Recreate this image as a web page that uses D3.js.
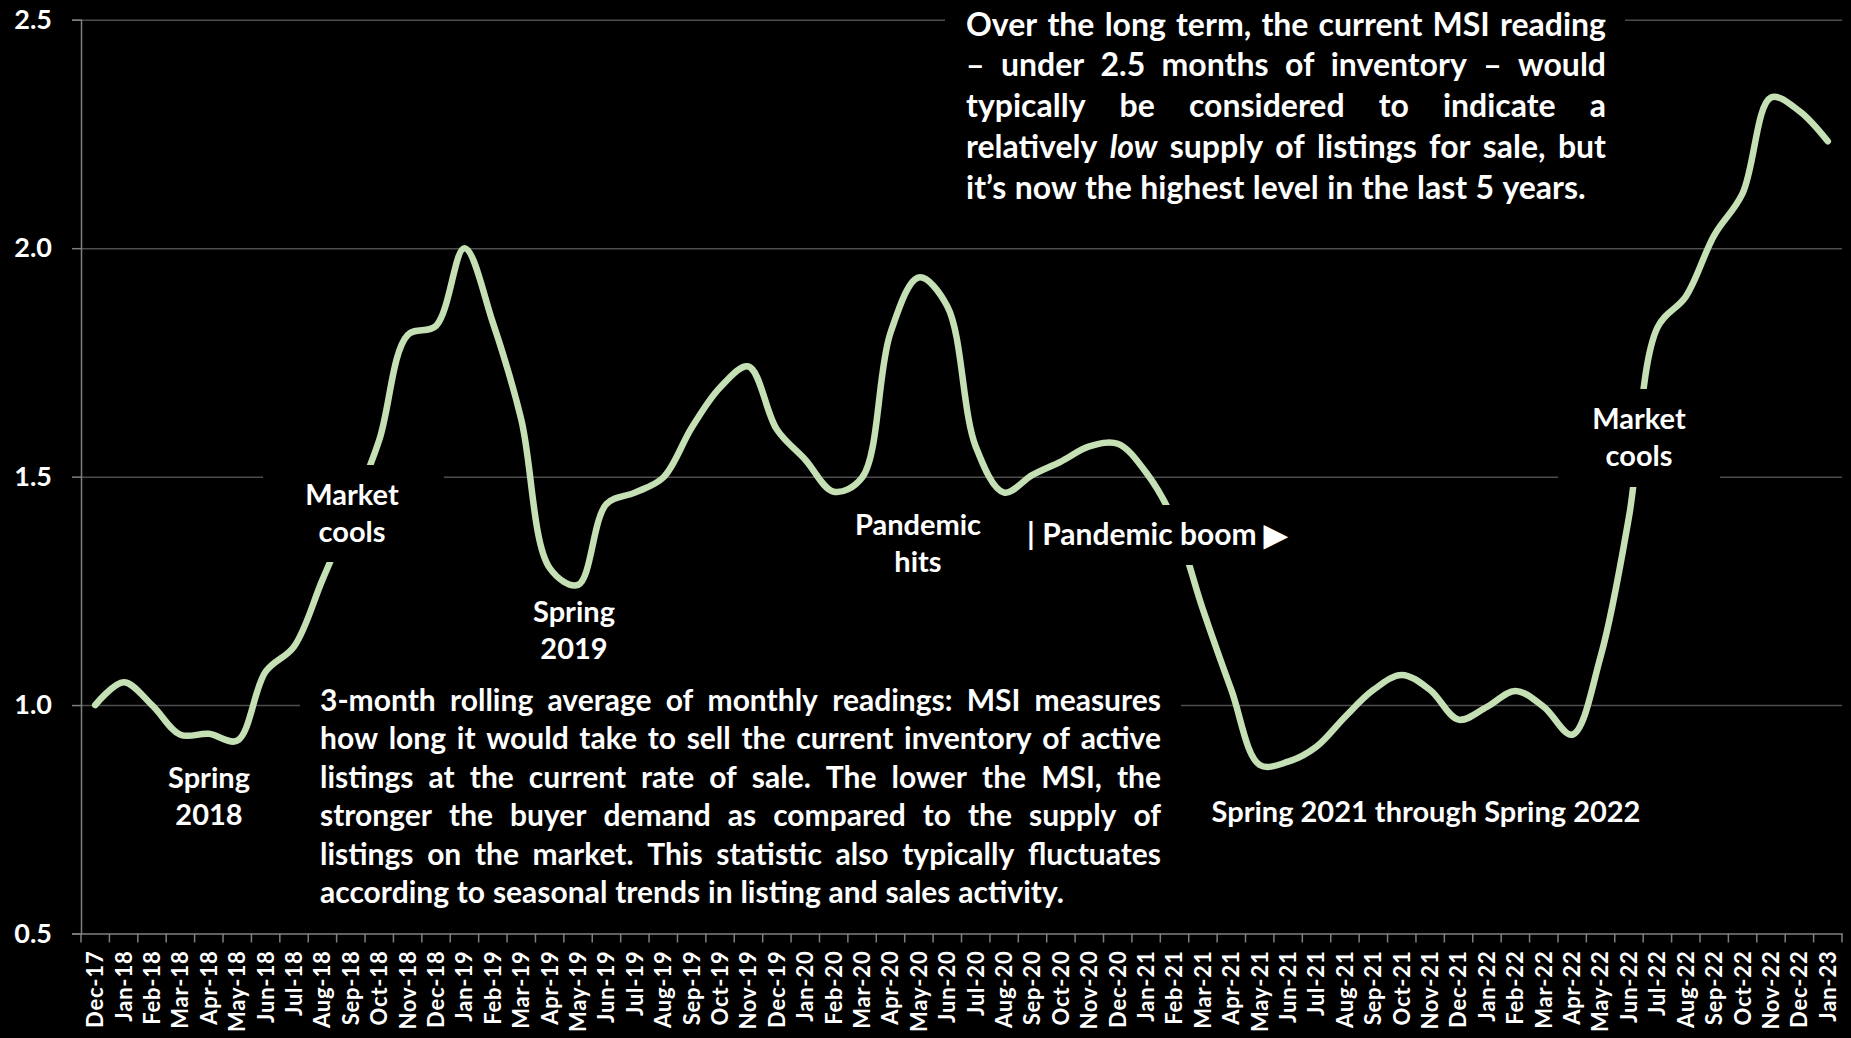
<!DOCTYPE html>
<html>
<head>
<meta charset="utf-8">
<script src="https://cdn.jsdelivr.net/npm/d3@7"></script>
<style>
  html, body { margin: 0; padding: 0; background: #000; }
  svg { display: block; }
  text { font-family: Lato, "Open Sans", sans-serif; font-weight: 700; fill: #fff; }
</style>
</head>
<body>
<div id="chart"></div>
<script>
var months = [
  "Dec-17",
  "Jan-18","Feb-18","Mar-18","Apr-18","May-18","Jun-18","Jul-18","Aug-18","Sep-18","Oct-18","Nov-18","Dec-18",
  "Jan-19","Feb-19","Mar-19","Apr-19","May-19","Jun-19","Jul-19","Aug-19","Sep-19","Oct-19","Nov-19","Dec-19",
  "Jan-20","Feb-20","Mar-20","Apr-20","May-20","Jun-20","Jul-20","Aug-20","Sep-20","Oct-20","Nov-20","Dec-20",
  "Jan-21","Feb-21","Mar-21","Apr-21","May-21","Jun-21","Jul-21","Aug-21","Sep-21","Oct-21","Nov-21","Dec-21",
  "Jan-22","Feb-22","Mar-22","Apr-22","May-22","Jun-22","Jul-22","Aug-22","Sep-22","Oct-22","Nov-22","Dec-22",
  "Jan-23"
];

// months of supply (3-month rolling average)
var msi = [
  1.00,
  1.05, 1.00, 0.935, 0.937, 0.922, 1.073, 1.128, 1.274, 1.42, 1.58, 1.81, 1.83,
  2.00, 1.837, 1.625, 1.30, 1.263, 1.44, 1.465, 1.498, 1.607, 1.695, 1.741, 1.603,
  1.537, 1.467, 1.498, 1.815, 1.936, 1.873, 1.566, 1.465, 1.504, 1.533, 1.566, 1.572,
  1.509, 1.40, 1.209, 1.033, 0.869, 0.876, 0.909, 0.974, 1.033, 1.066, 1.033, 0.968,
  0.996, 1.031, 0.996, 0.935, 1.106, 1.412, 1.826, 1.894, 2.028, 2.12, 2.33, 2.30,
  2.234
];

var yTicks = [0.5, 1.0, 1.5, 2.0, 2.5];

var topNote = [
  ["Over", "the", "long", "term,", "the", "current", "MSI", "reading"],
  ["–", "under", "2.5", "months", "of", "inventory", "–", "would"],
  ["typically", "be", "considered", "to", "indicate", "a"],
  ["relatively", "*low*", "supply", "of", "listings", "for", "sale,", "but"],
  ["it’s", "now", "the", "highest", "level", "in", "the", "last", "5", "years."]
];

var bottomNote = [
  ["3-month", "rolling", "average", "of", "monthly", "readings:", "MSI", "measures"],
  ["how", "long", "it", "would", "take", "to", "sell", "the", "current", "inventory", "of", "active"],
  ["listings", "at", "the", "current", "rate", "of", "sale.", "The", "lower", "the", "MSI,", "the"],
  ["stronger", "the", "buyer", "demand", "as", "compared", "to", "the", "supply", "of"],
  ["listings", "on", "the", "market.", "This", "statistic", "also", "typically", "fluctuates"],
  ["according", "to", "seasonal", "trends", "in", "listing", "and", "sales", "activity."]
];

var labels = [
  { lines: ["Spring", "2018"], x: 209, y: 788 },
  { lines: ["Market", "cools"], x: 352, y: 505, box: [263, 465, 444, 562] },
  { lines: ["Spring", "2019"], x: 574, y: 622 },
  { lines: ["Pandemic", "hits"], x: 918, y: 535 },
  { lines: ["| Pandemic boom ▶"], x: 1157, y: 545, size: 30, box: [1015, 505, 1300, 565] },
  { lines: ["Spring 2021 through Spring 2022"], x: 1426, y: 822 },
  { lines: ["Market", "cools"], x: 1639, y: 429, box: [1558, 389, 1720, 487] }
];

var W = 1851, H = 1038;
var plotL = 81, plotR = 1842, plotT = 19.75, plotB = 933.5;

var svg = d3.select("#chart").append("svg")
  .attr("width", W).attr("height", H)
  .style("background", "#000");

var x = d3.scaleBand().domain(months).range([plotL, plotR]).padding(0);
var y = d3.scaleLinear().domain([0.5, 2.5]).range([plotB, plotT]);

// gridlines
svg.append("g")
  .attr("transform", "translate(" + plotL + ",0)")
  .call(d3.axisLeft(y).tickValues(yTicks.slice(1)).tickSize(-(plotR - plotL)).tickFormat(""))
  .call(function(g) { g.select(".domain").remove(); })
  .selectAll("line").attr("stroke", "#4d4d4d").attr("stroke-width", 1.5);

// y axis
var yAxis = svg.append("g")
  .attr("transform", "translate(" + plotL + ",0)")
  .call(d3.axisLeft(y).tickValues(yTicks).tickSize(9).tickPadding(20).tickFormat(d3.format(".1f")));
yAxis.select(".domain").attr("stroke", "#7f7f7f").attr("stroke-width", 1.5);
yAxis.selectAll("line").attr("stroke", "#7f7f7f").attr("stroke-width", 1.5);
yAxis.selectAll("text").style("font-size", "27px").attr("fill", "#fff");

// x axis
var xAxis = svg.append("g")
  .attr("transform", "translate(0," + plotB + ")")
  .call(d3.axisBottom(x).tickSize(0));
xAxis.select(".domain").attr("stroke", "#7f7f7f").attr("stroke-width", 1.5);
xAxis.selectAll("text")
  .attr("transform", "rotate(-90)")
  .attr("x", -17).attr("y", 0).attr("dy", "0.36em")
  .style("text-anchor", "end")
  .style("font-size", "22px")
  .style("letter-spacing", "0.8px")
  .attr("fill", "#fff");

// tick marks between categories
var bounds = months.map(function(m) { return x(m); }).concat([plotR]);
svg.append("g").selectAll("line")
  .data(bounds).enter().append("line")
  .attr("x1", function(d) { return d; }).attr("x2", function(d) { return d; })
  .attr("y1", plotB).attr("y2", plotB + 9)
  .attr("stroke", "#7f7f7f").attr("stroke-width", 1.5);

// the line
var line = d3.line()
  .x(function(d, i) { return x(months[i]) + x.bandwidth() / 2; })
  .y(function(d) { return y(d); })
  .curve(d3.curveCatmullRom);

svg.append("path")
  .datum(msi)
  .attr("d", line)
  .attr("fill", "none")
  .attr("stroke", "#c5e0b4")
  .attr("stroke-width", 6.5)
  .attr("stroke-linecap", "round")
  .attr("stroke-linejoin", "round");

// text boxes (black fill hides what is behind them)
var boxes = [[945, 0, 1625, 205], [300, 680, 1181, 915]];
labels.forEach(function(l) { if (l.box) boxes.push(l.box); });
svg.append("g").selectAll("rect")
  .data(boxes).enter().append("rect")
  .attr("x", function(d) { return d[0]; })
  .attr("y", function(d) { return d[1]; })
  .attr("width", function(d) { return d[2] - d[0]; })
  .attr("height", function(d) { return d[3] - d[1]; })
  .attr("fill", "#000");

// measure one word on its own
function wordWidth(w, size, italic) {
  var t = svg.append("text").style("font-size", size + "px")
    .style("font-style", italic ? "italic" : null).text(w);
  var len = t.node().getComputedTextLength();
  t.remove();
  return len;
}

// justified paragraphs
function paragraph(lines, x0, width, y0, lh, size) {
  var g = svg.append("g");
  lines.forEach(function(words, i) {
    var items = words.map(function(w) {
      var it = /^\*.*\*$/.test(w);
      var s = it ? w.slice(1, -1) : w;
      return { s: s, it: it, w: wordWidth(s, size, it) };
    });
    var sum = d3.sum(items, function(d) { return d.w; });
    var gap = (i === lines.length - 1) ? size * 0.26 : (width - sum) / (words.length - 1);
    var t = g.append("text").attr("y", y0 + i * lh).style("font-size", size + "px");
    var cx = x0;
    items.forEach(function(d) {
      t.append("tspan").attr("x", cx).text(d.s)
        .style("font-style", d.it ? "italic" : null);
      cx += d.w + gap;
    });
  });
}
paragraph(topNote, 966, 640, 35.5, 40.9, 32);
paragraph(bottomNote, 320, 841, 711, 38.4, 30);

// annotation labels
labels.forEach(function(l) {
  var t = svg.append("text")
    .attr("text-anchor", "middle")
    .style("font-size", (l.size || 29) + "px");
  l.lines.forEach(function(s, i) {
    t.append("tspan").attr("x", l.x).attr("y", l.y + i * 37).text(s);
  });
});
</script>
</body>
</html>
